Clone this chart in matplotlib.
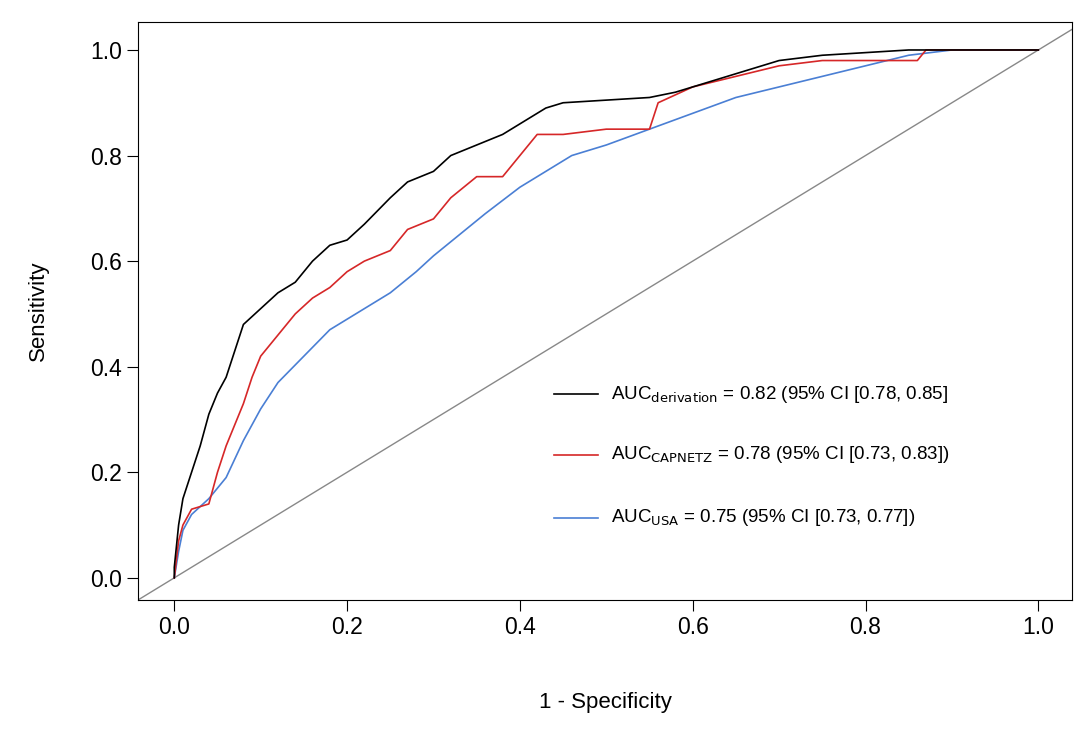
import matplotlib
matplotlib.use("Agg")
import matplotlib.pyplot as plt

plt.rcParams['font.family'] = ['Liberation Sans', 'DejaVu Sans']

deriv_x = [0,0,0.005,0.01,0.02,0.03,0.04,0.05,0.06,0.07,0.08,0.1,0.12,0.14,0.16,0.18,0.2,0.22,0.25,0.27,0.3,0.32,0.35,0.38,0.4,0.43,0.45,0.5,0.55,0.58,0.62,0.66,0.7,0.75,0.85,1]
deriv_y = [0,0.02,0.1,0.15,0.2,0.25,0.31,0.35,0.38,0.43,0.48,0.51,0.54,0.56,0.6,0.63,0.64,0.67,0.72,0.75,0.77,0.80,0.82,0.84,0.86,0.89,0.9,0.905,0.91,0.92,0.94,0.96,0.98,0.99,1.0,1.0]
cap_x = [0,0.005,0.01,0.02,0.04,0.05,0.06,0.07,0.08,0.09,0.1,0.12,0.14,0.16,0.18,0.2,0.22,0.25,0.27,0.3,0.32,0.35,0.38,0.4,0.42,0.45,0.5,0.55,0.56,0.6,0.65,0.7,0.75,0.86,0.87,1]
cap_y = [0,0.07,0.1,0.13,0.14,0.2,0.25,0.29,0.33,0.38,0.42,0.46,0.5,0.53,0.55,0.58,0.6,0.62,0.66,0.68,0.72,0.76,0.76,0.8,0.84,0.84,0.85,0.85,0.9,0.93,0.95,0.97,0.98,0.98,1.0,1.0]
usa_x = [0,0.005,0.01,0.02,0.04,0.06,0.08,0.1,0.12,0.15,0.18,0.2,0.22,0.25,0.28,0.3,0.33,0.36,0.4,0.43,0.46,0.5,0.55,0.6,0.65,0.7,0.75,0.8,0.85,0.9,1]
usa_y = [0,0.05,0.09,0.12,0.15,0.19,0.26,0.32,0.37,0.42,0.47,0.49,0.51,0.54,0.58,0.61,0.65,0.69,0.74,0.77,0.8,0.82,0.85,0.88,0.91,0.93,0.95,0.97,0.99,1.0,1.0]

labels = [r'AUC$_{\mathrm{derivation}}$ = 0.82 (95% CI [0.78, 0.85]',
          r'AUC$_{\mathrm{CAPNETZ}}$ = 0.78 (95% CI [0.73, 0.83])',
          r'AUC$_{\mathrm{USA}}$ = 0.75 (95% CI [0.73, 0.77])']
colors = ['#000000', '#d62728', '#4a7fd4']

fig = plt.figure(figsize=(10.9, 7.45), dpi=100)
ax = fig.add_axes([138/1090, 145/745, 934/1090, 578/745])
ax.axline((0, 0), (1, 1), color='#888888', lw=1)
for x, y, c in [(usa_x, usa_y, colors[2]), (cap_x, cap_y, colors[1]), (deriv_x, deriv_y, colors[0])]:
    ax.plot(x, y, color=c, lw=1.2)
ax.set_xlim(-0.042, 1.039)
ax.set_ylim(-0.042, 1.053)
ticks = [0, 0.2, 0.4, 0.6, 0.8, 1.0]
ax.set_xticks(ticks, [f'{t:.1f}' for t in ticks])
ax.set_yticks(ticks, [f'{t:.1f}' for t in ticks])
ax.tick_params(labelsize=16.5, length=8)
ax.set_xlabel('1 - Specificity', fontsize=16, labelpad=38)
ax.set_ylabel('Sensitivity', fontsize=16, labelpad=30)

ly = [0.348, 0.233, 0.114]
for lab, c, yy in zip(labels, colors, ly):
    ax.plot([0.44, 0.49], [yy, yy], color=c, lw=1.2)
    ax.text(0.505, yy, lab, fontsize=13.5, va='center')

fig.savefig('out.png', dpi=100)
